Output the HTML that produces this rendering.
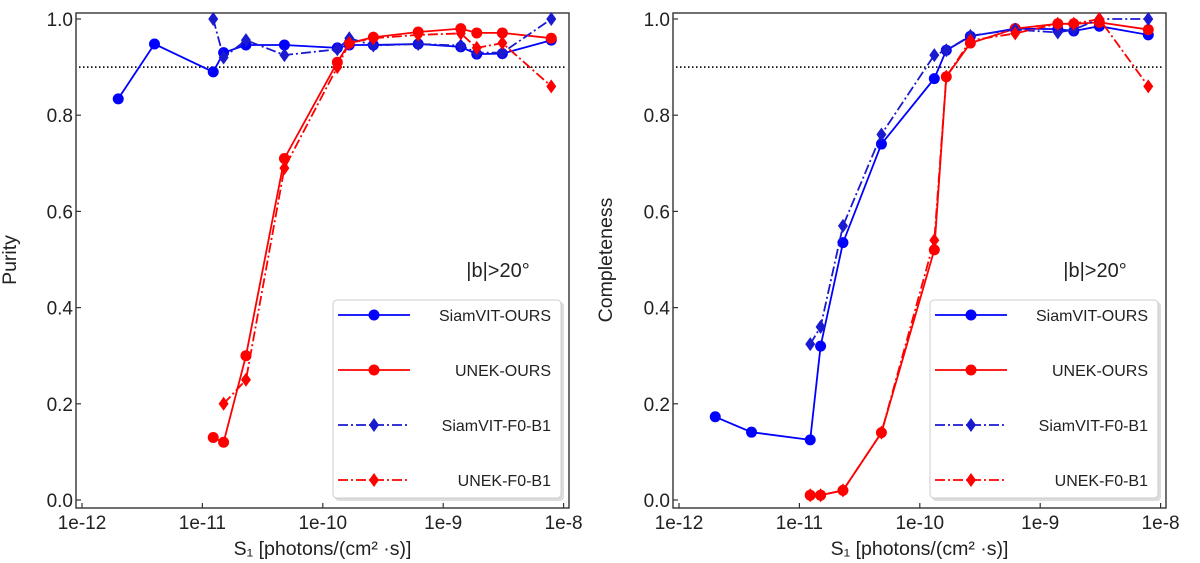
<!DOCTYPE html>
<html><head><meta charset="utf-8"><style>
body{margin:0;background:#fff;}
svg{display:block;font-family:"Liberation Sans","DejaVu Sans",sans-serif;}
</style></head><body>
<svg id="chart" width="1200" height="563" viewBox="0 0 1200 563"></svg>
<script>
const xTicks = [1e-12, 1e-11, 1e-10, 1e-9, 1e-8];
const xTickLabels = ["1e-12", "1e-11", "1e-10", "1e-9", "1e-8"];
const yTicks = [0.0, 0.2, 0.4, 0.6, 0.8, 1.0];
const yTickLabels = ["0.0", "0.2", "0.4", "0.6", "0.8", "1.0"];
const threshold = 0.9;

const sFull = [2.0e-12, 4.0e-12, 1.23e-11, 1.5e-11, 2.3e-11, 4.8e-11, 1.32e-10, 1.66e-10, 2.63e-10, 6.2e-10, 1.4e-9, 1.9e-9, 3.1e-9, 7.9e-9];
const sFrom123 = [1.23e-11, 1.5e-11, 2.3e-11, 4.8e-11, 1.32e-10, 1.66e-10, 2.63e-10, 6.2e-10, 1.4e-9, 1.9e-9, 3.1e-9, 7.9e-9];
const sFrom15 = [1.5e-11, 2.3e-11, 4.8e-11, 1.32e-10, 1.66e-10, 2.63e-10, 6.2e-10, 1.4e-9, 1.9e-9, 3.1e-9, 7.9e-9];

const puritySiamOurs = [0.834, 0.948, 0.89, 0.93, 0.946, 0.946, 0.94, 0.946, 0.946, 0.948, 0.942, 0.927, 0.928, 0.956];
const puritySiamF0 = [1.0, 0.92, 0.956, 0.925, 0.937, 0.96, 0.945, 0.948, 0.945, 0.93, 0.93, 1.0];
const purityUnekOurs = [0.13, 0.12, 0.30, 0.71, 0.91, 0.95, 0.962, 0.973, 0.98, 0.971, 0.971, 0.96];
const purityUnekF0 = [0.2, 0.25, 0.69, 0.9, 0.95, 0.96, 0.967, 0.97, 0.94, 0.95, 0.86];

const complSiamOurs = [0.173, 0.141, 0.125, 0.32, 0.535, 0.74, 0.876, 0.935, 0.964, 0.98, 0.979, 0.975, 0.985, 0.967];
const complSiamF0 = [0.324, 0.36, 0.57, 0.76, 0.925, 0.935, 0.965, 0.978, 0.972, 0.978, 1.0, 1.0];
const complUnekOurs = [0.01, 0.01, 0.02, 0.14, 0.52, 0.88, 0.95, 0.98, 0.99, 0.99, 0.993, 0.978];
const complUnekF0 = [0.01, 0.01, 0.02, 0.14, 0.54, 0.88, 0.955, 0.97, 0.99, 0.99, 1.0, 0.86];

const legendLabels = ["SiamVIT-OURS", "UNEK-OURS", "SiamVIT-F0-B1", "UNEK-F0-B1"];

const NS = "http://www.w3.org/2000/svg";
const svg = document.getElementById('chart');
function mk(tag, attrs, parent) {
  const e = document.createElementNS(NS, tag);
  for (const k in attrs) e.setAttribute(k, attrs[k]);
  (parent || svg).appendChild(e);
  return e;
}

const styles = [
  {color: "#0000ff", dash: "", marker: "circle"},
  {color: "#ff0000", dash: "", marker: "circle"},
  {color: "#1a1ad0", dash: "10,3,2,3", marker: "diamond"},
  {color: "#ff0000", dash: "10,3,2,3", marker: "diamond"}
];

function drawPanel(off, name, ylabel, ylabelX, series) {
  const g = mk('g', {});
  
  
  const L = 76 + off, R = 569 + off, T = 13, B = 508;
  const x = v => 82 + off + (Math.log10(v) + 12) * 120.4;
  const y = v => 500 - v * 481;
  const frame = mk('rect', {x: L, y: T, width: R - L, height: B - T, fill: 'none', stroke: '#333', 'stroke-width': 1.4}, g);
  
  
  xTicks.forEach((t, i) => {
    const X = x(t);
    const tk = mk('line', {x1: X, x2: X, y1: B, y2: B - 5, stroke: '#333', 'stroke-width': 1.2}, g);
    
    
    const tl = mk('text', {x: X, y: B + 21, 'text-anchor': 'middle', 'font-size': 19, fill: '#222'}, g);
    tl.textContent = xTickLabels[i];
    
    
  });
  yTicks.forEach((t, i) => {
    const Y = y(t);
    const tk = mk('line', {x1: L, x2: L + 5, y1: Y, y2: Y, stroke: '#333', 'stroke-width': 1.2}, g);
    
    
    const tl = mk('text', {x: L - 3, y: Y + 7, 'text-anchor': 'end', 'font-size': 19, fill: '#222'}, g);
    tl.textContent = yTickLabels[i];
    
    
  });
  const th = mk('line', {x1: L + 3, x2: R - 3, y1: y(threshold), y2: y(threshold), stroke: '#111', 'stroke-width': 1.8, 'stroke-dasharray': '1.5,2.5'}, g);
  
  
  const xl = mk('text', {x: (L + R) / 2, y: 555, 'text-anchor': 'middle', 'font-size': 19.5, fill: '#222'}, g);
  xl.textContent = "S₁ [photons/(cm² ·s)]";
  
  
  const yl = mk('text', {x: ylabelX, y: 260, 'text-anchor': 'middle', 'font-size': 19.5, fill: '#222', transform: `rotate(-90 ${ylabelX} 260)`}, g);
  yl.textContent = ylabel;
  
  
  const ann = mk('text', {x: 498 + off, y: 277, 'text-anchor': 'middle', 'font-size': 20, fill: '#222'}, g);
  ann.textContent = "|b|>20°";
  
  

  function marker(cx, cy, st, parent) {
    if (st.marker === 'circle') return mk('circle', {cx, cy, r: 5.5, fill: st.color}, parent);
    return mk('path', {d: `M${cx} ${cy - 7}L${cx + 5} ${cy}L${cx} ${cy + 7}L${cx - 5} ${cy}Z`, fill: st.color}, parent);
  }
  series.forEach((s, si) => {
    const st = styles[si];
    const sg = mk('g', {}, g);
    
    
    const pts = s.xs.map((v, i) => x(v).toFixed(1) + ',' + y(s.ys[i]).toFixed(1)).join(' ');
    const pl = mk('polyline', {points: pts, fill: 'none', stroke: st.color, 'stroke-width': 1.8, 'stroke-dasharray': st.dash}, sg);
    
    
    s.ys.forEach((v, i) => {
      const m = marker(x(s.xs[i]), y(v), st, sg);
      
      
    });
  });
  const lg = mk('g', {}, g);
  
  
  mk('rect', {x: 335 + off, y: 302, width: 229, height: 199, rx: 4, fill: '#bbb', opacity: 0.5}, lg);
  mk('rect', {x: 333 + off, y: 300, width: 228, height: 198, rx: 4, fill: '#fff', stroke: '#ccc', 'stroke-width': 1}, lg);
  legendLabels.forEach((lab, i) => {
    const st = styles[i];
    const Y = 315 + i * 55;
    const e = mk('g', {}, lg);
    
    
    mk('line', {x1: 338 + off, x2: 410 + off, y1: Y, y2: Y, stroke: st.color, 'stroke-width': 1.8, 'stroke-dasharray': st.dash}, e);
    marker(374 + off, Y, st, e);
    const t = mk('text', {x: 551 + off, y: Y + 6, 'text-anchor': 'end', 'font-size': 16, fill: '#222'}, e);
    t.textContent = lab;
  });
}

drawPanel(0, 'purity-panel', 'Purity', 16, [
  {xs: sFull, ys: puritySiamOurs},
  {xs: sFrom123, ys: purityUnekOurs},
  {xs: sFrom123, ys: puritySiamF0},
  {xs: sFrom15, ys: purityUnekF0}
]);
drawPanel(597, 'completeness-panel', 'Completeness', 612, [
  {xs: sFull, ys: complSiamOurs},
  {xs: sFrom123, ys: complUnekOurs},
  {xs: sFrom123, ys: complSiamF0},
  {xs: sFrom123, ys: complUnekF0}
]);
</script>
</body></html>
